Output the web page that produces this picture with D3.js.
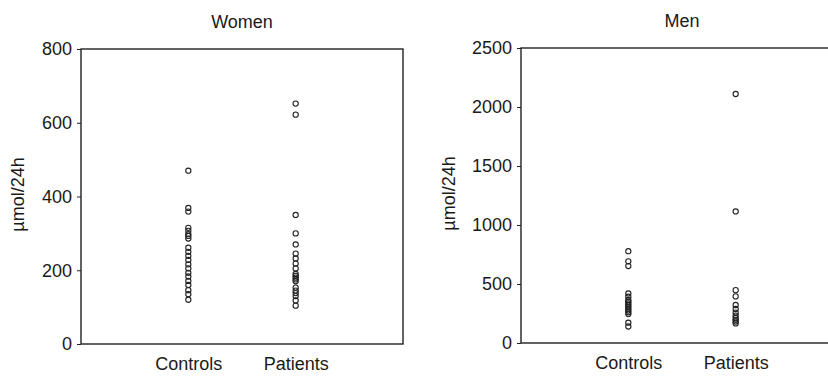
<!DOCTYPE html>
<html>
<head>
<meta charset="utf-8">
<script src="https://cdn.jsdelivr.net/npm/d3@7"></script>
<style>
  body { margin: 0; background: #fff; }
  text { font-family: "Liberation Sans", Arial, sans-serif; fill: #1a1a1a; }
</style>
</head>
<body>
<div id="chart"></div>
<script>
var groups = ["Controls", "Patients"];

// women, umol/24h
var womenControls = [470, 369, 359, 315, 307, 298, 293, 286, 261, 250, 239, 228, 216, 205, 193, 183, 171, 160, 146, 135, 120];
var womenPatients = [652, 622, 350, 300, 270, 245, 232, 218, 205, 190, 185, 180, 175, 170, 153, 145, 138, 130, 118, 104];

// men, umol/24h
var menControls = [778, 692, 652, 420, 392, 365, 350, 335, 320, 305, 290, 275, 260, 245, 172, 140];
var menPatients = [2110, 1115, 448, 395, 322, 288, 258, 232, 212, 196, 182, 166];

var womenTicks = [0, 200, 400, 600, 800];
var menTicks = [0, 500, 1000, 1500, 2000, 2500];

var svg = d3.select("#chart")
  .append("svg")
  .attr("width", 828)
  .attr("height", 376);

function panel(left, top, labelX, title, ticks, controls, patients) {
  var w = 322, h = 295;
  var g = svg.append("g").attr("transform", "translate(" + left + "," + top + ")");

  var x = d3.scalePoint().domain(groups).range([0, w]).padding(1);
  var y = d3.scaleLinear().domain([0, d3.max(ticks)]).range([h, 0]);

  // frame
  g.append("rect")
    .attr("width", w).attr("height", h)
    .attr("fill", "none").attr("stroke", "#222").attr("stroke-width", 1.4);

  var ya = g.append("g")
    .call(d3.axisLeft(y).tickValues(ticks).tickSize(4).tickPadding(5).tickFormat(d3.format("d")));
  ya.select(".domain").remove();
  ya.selectAll("line").attr("stroke", "#222");
  ya.selectAll("text").style("font-size", "18px").attr("fill", "#1a1a1a");

  var xa = g.append("g")
    .attr("transform", "translate(0," + h + ")")
    .call(d3.axisBottom(x).tickSize(0).tickPadding(13));
  xa.select(".domain").remove();
  xa.selectAll("text").style("font-size", "18px").attr("fill", "#1a1a1a");

  g.append("text")
    .attr("x", w / 2).attr("y", -21)
    .attr("text-anchor", "middle")
    .style("font-size", "18px")
    .text(title);

  g.append("text")
    .attr("transform", "translate(" + labelX + "," + (h / 2 - 2) + ") rotate(-90)")
    .attr("text-anchor", "middle")
    .style("font-size", "18px")
    .text("µmol/24h");

  var pts = [];
  controls.forEach(function(v) { pts.push({ g: "Controls", v: v }); });
  patients.forEach(function(v) { pts.push({ g: "Patients", v: v }); });

  g.selectAll("circle").data(pts).enter().append("circle")
    .attr("cx", function(d) { return x(d.g); })
    .attr("cy", function(d) { return y(d.v); })
    .attr("r", 2.6)
    .attr("fill", "none")
    .attr("stroke", "#222")
    .attr("stroke-width", 1.1);
}

panel(81, 49, -57, "Women", womenTicks, womenControls, womenPatients);
panel(521, 48, -66, "Men", menTicks, menControls, menPatients);
</script>
</body>
</html>
